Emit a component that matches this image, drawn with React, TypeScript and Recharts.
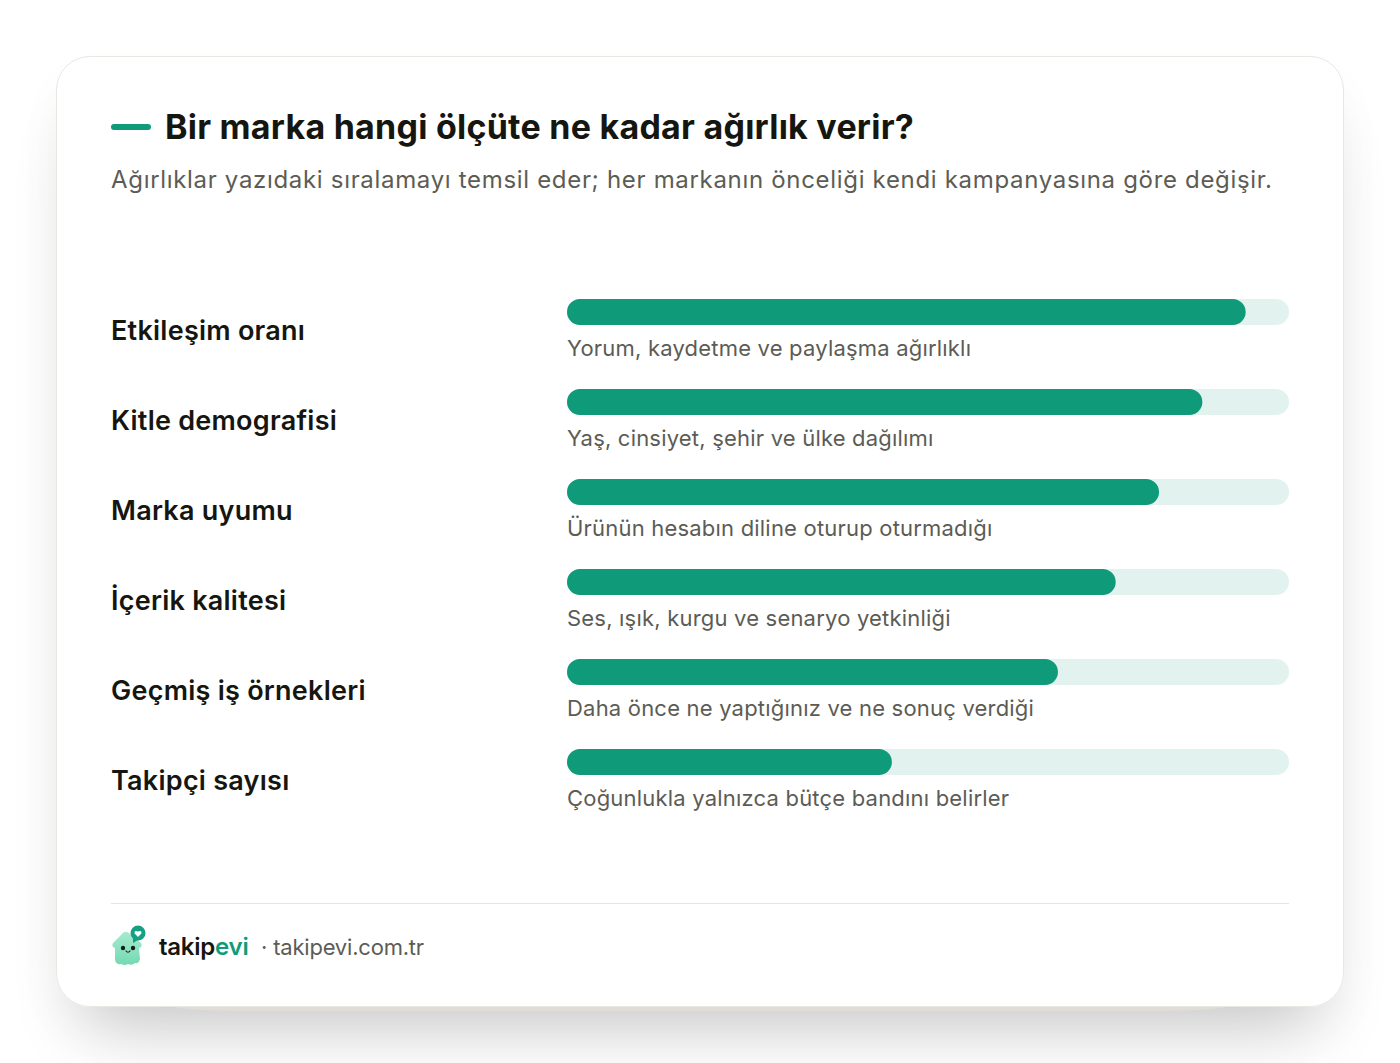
import { Bar, BarChart, LabelList, XAxis, YAxis } from "recharts";

const criteria = [
  "Etkileşim oranı",
  "Kitle demografisi",
  "Marka uyumu",
  "İçerik kalitesi",
  "Geçmiş iş örnekleri",
  "Takipçi sayısı",
];
const weights = [94, 88, 82, 76, 68, 45];
const notes = [
  "Yorum, kaydetme ve paylaşma ağırlıklı",
  "Yaş, cinsiyet, şehir ve ülke dağılımı",
  "Ürünün hesabın diline oturup oturmadığı",
  "Ses, ışık, kurgu ve senaryo yetkinliği",
  "Daha önce ne yaptığınız ve ne sonuç verdiği",
  "Çoğunlukla yalnızca bütçe bandını belirler",
];

const data = criteria.map((name, i) => ({ name, weight: weights[i], note: notes[i] }));

const FONT = "Inter, 'Noto Sans', sans-serif";
const GREEN = "#0f9b7a";

const CriterionTick = ({ y, payload }: any) => (
  <text x={111} y={y + 19} dy="0.35em" fontFamily={FONT} fontSize={27} fontWeight={600} fill="#161611" letterSpacing={0.25}>
    {payload.value}
  </text>
);

const NoteLabel = ({ y, height, value }: any) => (
  <text x={567} y={y + height + 23.5} dy="0.35em" fontFamily={FONT} fontSize={22} fill="#5c5c55" letterSpacing={0.2}>
    {value}
  </text>
);

const Logo = () => (
  <svg width={40} height={44} viewBox="0 0 40 44" style={{ position: "absolute", left: 110, top: 925 }}>
    <defs>
      <linearGradient id="logoBody" x1="0" y1="0" x2="0" y2="1">
        <stop offset="0%" stopColor="#a6ebcf" />
        <stop offset="100%" stopColor="#74d9b3" />
      </linearGradient>
    </defs>
    <path
      d="M15 7 Q17 6 20 9 L31 18 Q33 22 29 23 L30 34 Q29 39 25 38 Q22 41 18 39 Q15 41 11 39 Q6 40 5 35 L5 23 Q1 22 3 18 L12 9 Q13 7 15 7 Z"
      fill="url(#logoBody)"
    />
    <circle cx={13} cy={23} r={2.2} fill="#1c1c18" />
    <circle cx={23} cy={23} r={2.2} fill="#1c1c18" />
    <path d="M16 26 Q18 28.5 20 26" stroke="#1c1c18" strokeWidth={1.2} fill="none" strokeLinecap="round" />
    <path d="M23 13 L23 18 L28 15 Z" fill="#14a083" />
    <circle cx={28} cy={8} r={7.5} fill="#14a083" />
    <path d="M28 12 L24.6 8.4 Q24 5 28 6.6 Q32 5 31.4 8.4 Z" fill="#ffffff" />
  </svg>
);

const App = () => {
  return (
    <div style={{ position: "absolute", left: 0, top: 0, width: 1400, height: 1063, background: "#fff", overflow: "hidden", fontFamily: FONT }}>
      <div
        style={{
          position: "absolute",
          left: 56,
          top: 56,
          width: 1288,
          height: 951,
          borderRadius: 34,
          boxShadow: "0 48px 70px -28px rgba(0,0,0,0.2), 0 24px 50px rgba(0,0,0,0.03)",
        }}
      />
      <div style={{ position: "absolute", left: 170, top: 950, width: 1060, height: 61, background: "#e0ddd6", borderRadius: "70px / 6px" }} />
      <div
        style={{
          position: "absolute",
          left: 56,
          top: 56,
          width: 1288,
          height: 951,
          boxSizing: "border-box",
          background: "#fff",
          border: "1px solid #e9e7e1",
          borderRadius: 34,
        }}
      />
      <div style={{ position: "absolute", left: 111, top: 124, width: 40, height: 6, borderRadius: 3, background: GREEN }} />
      <div style={{ position: "absolute", left: 165, top: 105, fontSize: 34, lineHeight: "44px", fontWeight: 700, letterSpacing: 0.24, color: "#161611", whiteSpace: "nowrap" }}>
        Bir marka hangi ölçüte ne kadar ağırlık verir?
      </div>
      <div style={{ position: "absolute", left: 111, top: 164, fontSize: 24, lineHeight: "32px", letterSpacing: 0.68, color: "#5c5c55", whiteSpace: "nowrap" }}>
        Ağırlıklar yazıdaki sıralamayı temsil eder; her markanın önceliği kendi kampanyasına göre değişir.
      </div>

      <div style={{ position: "absolute", left: 0, top: 0 }}>
        <BarChart
          width={1400}
          height={1063}
          data={data}
          layout="vertical"
          margin={{ top: 267, right: 111, bottom: 256, left: 111 }}
          barSize={26}
        >
          <XAxis type="number" domain={[0, 100]} hide />
          <YAxis type="category" dataKey="name" width={456} axisLine={false} tickLine={false} tick={<CriterionTick />} />
          <Bar
            dataKey="weight"
            fill={GREEN}
            radius={13}
            background={{ fill: "#e2f2ee", radius: 13 }}
            isAnimationActive={false}
          >
            <LabelList dataKey="note" content={<NoteLabel />} />
          </Bar>
        </BarChart>
      </div>

      <div style={{ position: "absolute", left: 111, top: 903, width: 1178, height: 1, background: "#e6e6e3" }} />
      <Logo />
      <div style={{ position: "absolute", left: 159, top: 931, fontSize: 24, lineHeight: "32px", fontWeight: 600, letterSpacing: -0.25, color: "#161611", whiteSpace: "nowrap" }}>
        takip<span style={{ color: GREEN }}>evi</span>
      </div>
      <div style={{ position: "absolute", left: 261, top: 931, fontSize: 22, lineHeight: "32px", letterSpacing: -0.2, color: "#5c5c55", whiteSpace: "nowrap" }}>
        · takipevi.com.tr
      </div>
    </div>
  );
};

export default App;
